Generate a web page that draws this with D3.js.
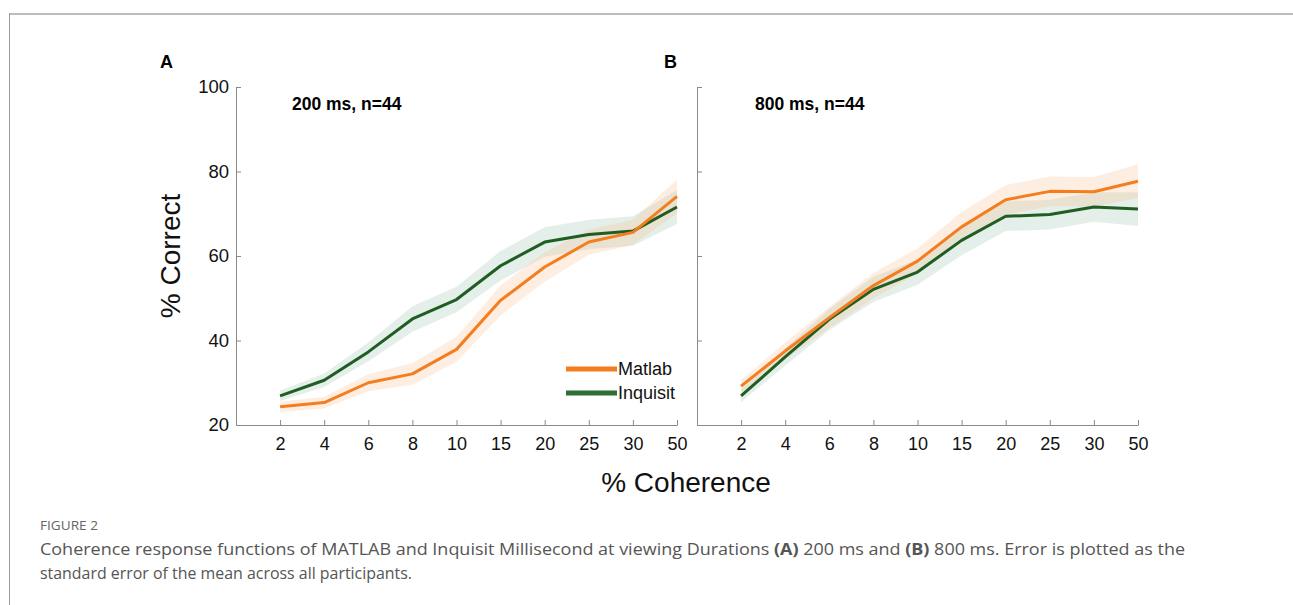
<!DOCTYPE html>
<html>
<head>
<meta charset="utf-8">
<script src="https://cdn.jsdelivr.net/npm/d3@7"></script>
<style>
  html, body { margin: 0; padding: 0; background: #fff; }
  svg { display: block; }
</style>
</head>
<body>
<svg id="chart" width="1293" height="605"></svg>
<script>
// ---- Data ----
const coherence = ["2", "4", "6", "8", "10", "15", "20", "25", "30", "50"];
const yTicks = [20, 40, 60, 80, 100];

const matlab200 = [24.3, 25.3, 30.0, 32.1, 37.9, 49.5, 57.4, 63.3, 65.6, 74.1];
const matlab200SE = [1.2, 1.4, 2.0, 2.6, 3.0, 3.5, 3.5, 3.0, 3.0, 4.0];
const inquisit200 = [26.9, 30.6, 37.3, 45.1, 49.7, 57.7, 63.3, 65.1, 65.9, 71.6];
const inquisit200SE = [1.2, 1.6, 2.2, 3.0, 3.0, 3.5, 3.5, 3.5, 3.5, 4.0];

const matlab800 = [29.2, 37.5, 45.4, 53.0, 58.8, 66.9, 73.3, 75.3, 75.2, 77.7];
const matlab800SE = [1.5, 2.0, 2.5, 3.0, 3.0, 3.5, 3.5, 3.5, 3.5, 4.0];
const inquisit800 = [26.9, 36.1, 45.0, 52.1, 56.2, 63.7, 69.4, 69.8, 71.6, 71.1];
const inquisit800SE = [1.5, 2.0, 2.5, 3.0, 3.0, 3.5, 3.5, 3.5, 3.5, 4.0];

const seriesNames = ["Matlab", "Inquisit"];
const panelLabels = ["A", "B"];
const panelTitles = ["200 ms, n=44", "800 ms, n=44"];

// ---- Styles ----
const ORANGE = "#f47d1f";
const GREEN = "#1f5d22";
const ORANGE_FILL = "rgba(250,190,140,0.26)";
const GREEN_FILL = "rgba(150,195,175,0.26)";
const AXIS = "#8a8a8a";
const FONT = "'Liberation Sans', Arial, Helvetica, sans-serif";

const svg = d3.select("#chart");

// figure frame
svg.append("line").attr("x1", 9).attr("x2", 1293).attr("y1", 14).attr("y2", 14)
  .attr("stroke", "#bdbdbd").attr("stroke-width", 2);
svg.append("line").attr("x1", 9.5).attr("x2", 9.5).attr("y1", 13).attr("y2", 605)
  .attr("stroke", "#9a9a9a").attr("stroke-width", 1);

const y = d3.scaleLinear().domain([20, 100]).range([425, 87]);

const panels = [
  { x0: 236, x1: 677, m: matlab200, mse: matlab200SE, q: inquisit200, qse: inquisit200SE, labelX: 160, titleX: 292, showY: true },
  { x0: 697, x1: 1138, m: matlab800, mse: matlab800SE, q: inquisit800, qse: inquisit800SE, labelX: 664, titleX: 755, showY: false }
];

panels.forEach((p, pi) => {
  const x = d3.scaleLinear().domain([-1, coherence.length - 1]).range([p.x0, p.x1]);
  const g = svg.append("g");

  // bands
  const area = (vals, se) => d3.area()
    .x((d, i) => x(i))
    .y0((d, i) => y(vals[i] - se[i]))
    .y1((d, i) => y(vals[i] + se[i]))(vals);
  g.append("path").attr("d", area(p.q, p.qse)).attr("fill", GREEN_FILL);
  g.append("path").attr("d", area(p.m, p.mse)).attr("fill", ORANGE_FILL);

  // axes
  const xAxis = d3.axisBottom(x).tickValues(d3.range(coherence.length))
    .tickFormat(i => coherence[i]).tickSizeInner(-5).tickSizeOuter(0).tickPadding(12);
  const gx = g.append("g").attr("transform", `translate(0,${y(20)})`).call(xAxis);
  gx.select(".domain").attr("stroke", AXIS);
  gx.selectAll(".tick line").attr("stroke", AXIS);
  gx.selectAll(".tick text").attr("font-family", FONT).attr("font-size", 18).attr("fill", "#111");

  const yAxis = d3.axisLeft(y).tickValues(yTicks).tickSizeInner(-5).tickSizeOuter(0)
    .tickPadding(7).tickFormat(p.showY ? d3.format("d") : () => "");
  const gy = g.append("g").attr("transform", `translate(${p.x0},0)`).call(yAxis);
  gy.select(".domain").attr("stroke", AXIS);
  gy.selectAll(".tick line").attr("stroke", AXIS);
  gy.selectAll(".tick text").attr("font-family", FONT).attr("font-size", 18.5).attr("fill", "#111");

  // lines
  const line = d3.line().x((d, i) => x(i)).y(d => y(d));
  g.append("path").attr("d", line(p.q)).attr("fill", "none").attr("stroke", GREEN)
    .attr("stroke-width", 3).attr("stroke-linejoin", "round");
  g.append("path").attr("d", line(p.m)).attr("fill", "none").attr("stroke", ORANGE)
    .attr("stroke-width", 3).attr("stroke-linejoin", "round");

  // panel label and title
  g.append("text").attr("x", p.labelX).attr("y", 68).text(panelLabels[pi])
    .attr("font-family", FONT).attr("font-weight", "bold").attr("font-size", 18).attr("fill", "#000");
  g.append("text").attr("x", p.titleX).attr("y", 110).text(panelTitles[pi])
    .attr("font-family", FONT).attr("font-weight", "bold").attr("font-size", 17.5).attr("fill", "#000");
});

// legend (panel A)
const legend = svg.append("g");
const legendColors = [ORANGE, "#2f6f33"];
seriesNames.forEach((name, i) => {
  const ly = 369 + i * 24;
  legend.append("line").attr("x1", 566).attr("x2", 617).attr("y1", ly).attr("y2", ly)
    .attr("stroke", legendColors[i]).attr("stroke-width", 5);
  legend.append("text").attr("x", 618).attr("y", ly + 6).text(name)
    .attr("font-family", FONT).attr("font-size", 18).attr("fill", "#111");
});

// axis titles
svg.append("text").attr("transform", "translate(180,256) rotate(-90)")
  .attr("text-anchor", "middle").text("% Correct")
  .attr("font-family", FONT).attr("font-size", 28).attr("fill", "#111");
svg.append("text").attr("x", 686).attr("y", 492).attr("text-anchor", "middle")
  .text("% Coherence").attr("font-family", FONT).attr("font-size", 28).attr("fill", "#111");

// caption
const CAP = "'Open Sans', 'Noto Sans', sans-serif";
svg.append("text").attr("x", 40).attr("y", 530).text("FIGURE 2")
  .attr("font-family", CAP).attr("font-size", 12).attr("fill", "#666")
  .attr("textLength", 58).attr("lengthAdjust", "spacingAndGlyphs");
const cap1 = svg.append("text").attr("x", 40).attr("y", 555)
  .attr("font-family", CAP).attr("font-size", 16.5).attr("fill", "#555")
  .attr("textLength", 1145).attr("lengthAdjust", "spacingAndGlyphs");
[["Coherence response functions of MATLAB and Inquisit Millisecond at viewing Durations ", false],
 ["(A)", true], [" 200 ms and ", false], ["(B)", true],
 [" 800 ms. Error is plotted as the", false]].forEach(([t, b]) => {
  cap1.append("tspan").text(t).attr("font-weight", b ? "bold" : "normal");
});
svg.append("text").attr("x", 40).attr("y", 579)
  .text("standard error of the mean across all participants.")
  .attr("font-family", CAP).attr("font-size", 16.5).attr("fill", "#555")
  .attr("textLength", 372).attr("lengthAdjust", "spacingAndGlyphs");
</script>
</body>
</html>
